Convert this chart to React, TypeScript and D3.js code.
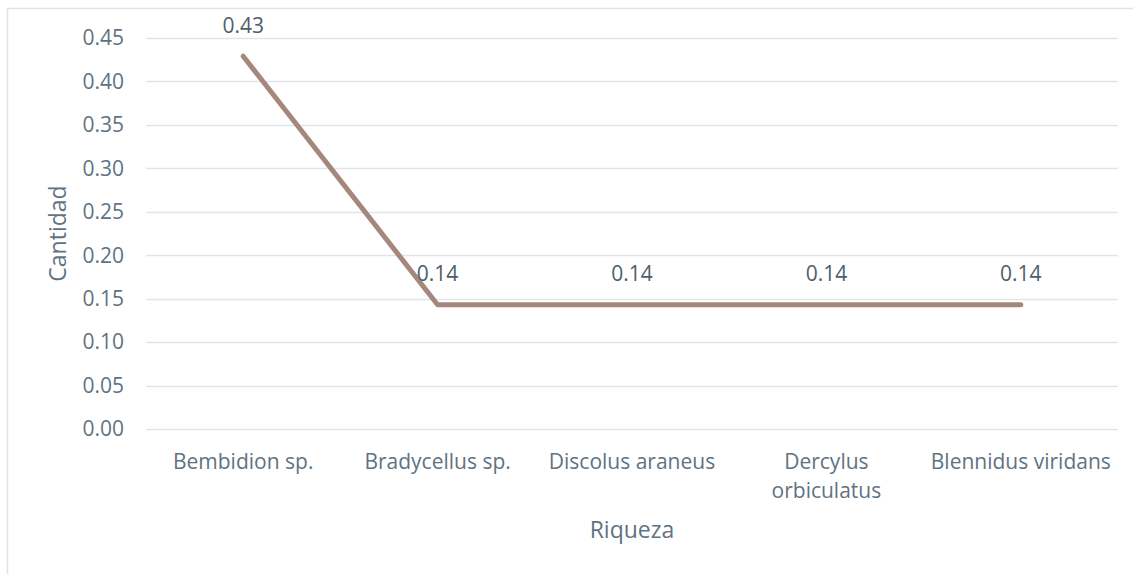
import React, { useRef, useEffect } from 'react';
import * as d3 from 'd3';

// data
const categories = ['Bembidion sp.', 'Bradycellus sp.', 'Discolus araneus', 'Dercylus orbiculatus', 'Blennidus viridans'];
const categoryLines = [['Bembidion sp.'], ['Bradycellus sp.'], ['Discolus araneus'], ['Dercylus', 'orbiculatus'], ['Blennidus viridans']];
const values = [0.429, 0.143, 0.143, 0.143, 0.143];
const valueLabels = ['0.43', '0.14', '0.14', '0.14', '0.14'];
const yTicks = [0, 0.05, 0.1, 0.15, 0.2, 0.25, 0.3, 0.35, 0.4, 0.45];

const W = 1133;
const H = 574;
const FONT = '"Open Sans", Lato, sans-serif';
const TEXT = '#5f7382';
const FS = 21;

const App: React.FC = () => {
    const ref = useRef<SVGSVGElement>(null);

    useEffect(() => {
        if (!ref.current) return;
        const svg = d3.select(ref.current);
        svg.selectAll('*').remove();

        const left = 146, right = 1118, top = 38, bottom = 429;

        const x = d3.scalePoint<string>()
            .domain(categories)
            .range([left, right])
            .padding(0.5);

        const y = d3.scaleLinear()
            .domain([0, 0.45])
            .range([bottom, top]);

        svg.append('rect').attr('width', W).attr('height', H).attr('fill', '#fff');

        // outer frame (only top & left visible)
        svg.append('path')
            .attr('d', `M7.5,${H} V8.5 H${W}`)
            .attr('fill', 'none')
            .attr('stroke', '#dfe3e7')
            .attr('stroke-width', 1.5);

        // gridlines
        svg.append('g')
            .selectAll('line')
            .data(yTicks)
            .enter()
            .append('line')
            .attr('x1', left)
            .attr('x2', right)
            .attr('y1', d => Math.round(y(d)) + 0.5)
            .attr('y2', d => Math.round(y(d)) + 0.5)
            .attr('stroke', '#e1e5ea')
            .attr('stroke-width', 1.3);

        // y tick labels
        svg.append('g')
            .selectAll('text')
            .data(yTicks)
            .enter()
            .append('text')
            .attr('x', 124)
            .attr('y', d => y(d))
            .attr('dy', '0.35em')
            .attr('text-anchor', 'end')
            .attr('font-family', FONT)
            .attr('font-size', FS)
            .attr('fill', TEXT)
            .text(d => d.toFixed(2));

        // line
        const line = d3.line<number>()
            .x((_, i) => x(categories[i]) as number)
            .y(d => y(d));

        svg.append('path')
            .datum(values)
            .attr('d', line)
            .attr('fill', 'none')
            .attr('stroke', '#a5887b')
            .attr('stroke-width', 5)
            .attr('stroke-linejoin', 'round')
            .attr('stroke-linecap', 'round');

        // data labels
        svg.append('g')
            .selectAll('text')
            .data(values)
            .enter()
            .append('text')
            .attr('x', (_, i) => x(categories[i]) as number)
            .attr('y', d => y(d) - 31)
            .attr('dy', '0.35em')
            .attr('text-anchor', 'middle')
            .attr('font-family', FONT)
            .attr('font-size', FS)
            .attr('fill', '#4e5f6c')
            .text((_, i) => valueLabels[i]);

        // category labels (two-line one is split by hand, like the original)
        const cat = svg.append('g')
            .selectAll('text')
            .data(categoryLines)
            .enter()
            .append('text')
            .attr('y', 462)
            .attr('text-anchor', 'middle')
            .attr('font-family', FONT)
            .attr('font-size', FS)
            .attr('fill', TEXT);

        cat.each(function (lines, i) {
            const t = d3.select(this);
            lines.forEach((l, j) => {
                t.append('tspan')
                    .attr('x', x(categories[i]) as number)
                    .attr('dy', j === 0 ? '0.35em' : '1.38em')
                    .text(l);
            });
        });

        // axis titles
        svg.append('text')
            .attr('x', (left + right) / 2)
            .attr('y', 530)
            .attr('dy', '0.35em')
            .attr('text-anchor', 'middle')
            .attr('font-family', FONT)
            .attr('font-size', FS + 2)
            .attr('fill', TEXT)
            .text('Riqueza');

        svg.append('text')
            .attr('transform', `translate(58,${(top + bottom) / 2}) rotate(-90)`)
            .attr('dy', '0.35em')
            .attr('text-anchor', 'middle')
            .attr('font-family', FONT)
            .attr('font-size', FS + 2)
            .attr('fill', TEXT)
            .text('Cantidad');
    }, []);

    return (
        <svg
            ref={ref}
            width={W}
            height={H}
            style={{ position: 'absolute', left: 0, top: 0, display: 'block' }}
        />
    );
};

export default App;
